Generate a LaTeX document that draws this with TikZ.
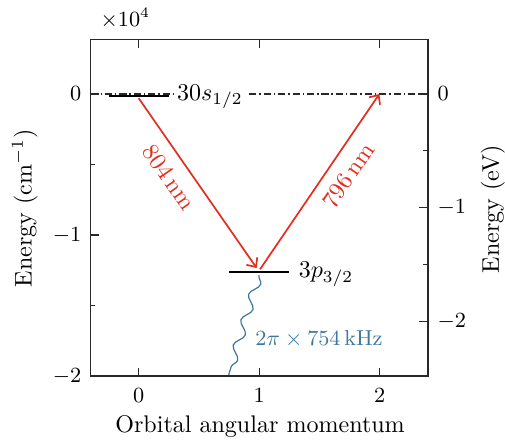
\documentclass[tikz,border=0pt]{standalone}
\usetikzlibrary{arrows.meta,decorations.pathmorphing}
\definecolor{arrred}{RGB}{226,45,30}
\definecolor{wavblue}{RGB}{60,120,160}
\definecolor{framegray}{RGB}{40,40,40}
\begin{document}
\begin{tikzpicture}[x=50.10pt, y=58.63pt,
  ticklab/.style={inner sep=0pt, font=\fontsize{9}{11}\selectfont},
  axlab/.style={inner sep=0pt, font=\fontsize{10}{12}\selectfont},
  levlab/.style={inner sep=0pt, anchor=base west, font=\fontsize{10}{12}\selectfont},
  levelline/.style={line width=0.9pt, black},
  trans/.style={arrred, line width=0.7pt, -{Straight Barb[length=3pt,width=5.5pt]}},
  tick/.style={framegray, line width=0.5pt},
  ]
\useasboundingbox (-1.151,-2.461) rectangle (3.040,0.6667);
% ionization limit
\draw[framegray, line width=0.5pt, dash pattern=on 3pt off 1.2pt on 0.6pt off 1.2pt] (-0.4,0) -- (2.4,0);
% levels
\draw[levelline] (-0.25,-0.0134) -- (0.25,-0.0134);
\draw[levelline] (0.75,-1.264) -- (1.25,-1.264);
% coordinates of transitions
\coordinate (s0) at (0,-0.03);
\coordinate (p0) at (0.979,-1.234);
\coordinate (p1) at (1.007,-1.243);
\coordinate (r0) at (1.997,0.0);
\coordinate (w0) at (0.998,-1.284);
\coordinate (w1) at (0.744,-2);
% transitions
\draw[trans] (s0) -- node[sloped, below, pos=0.4, inner sep=4.5pt, text=arrred, font=\fontsize{10}{12}\selectfont] (l804) {804\,nm} (p0);
\draw[trans] (p1) -- node[sloped, below, pos=0.6, inner sep=4.5pt, text=arrred, font=\fontsize{10}{12}\selectfont] (l796) {796\,nm} (r0);
\draw[wavblue, line width=0.5pt, decorate, decoration={snake, segment length=11pt, amplitude=1.8pt}] (w0) -- (w1);
% level labels
\node[levlab, fill=white, inner sep=1.5pt] (s30) at (0.285,-0.0426) {$30s_{1/2}$};
\node[levlab] (p3) at (1.325,-1.303) {$3p_{3/2}$};
\node[levlab, text=wavblue, font=\fontsize{9.5}{11}\selectfont] (freq) at (0.965,-1.78) {$2\pi\times754\,\mathrm{kHz}$};
% frame
\draw[framegray, line width=0.6pt] (-0.4,-2) rectangle (2.4,0.3865);
% x ticks
\foreach \x in {0,1,2} {
  \draw[tick] (\x,-2) -- ++(0,3.5pt);
  \draw[tick] (\x,0.3865) -- ++(0,-3.5pt);
  \node[ticklab, anchor=north] (xt\x) at ([yshift=-5pt]\x,-2) {$\x$};
}
% left ticks
\foreach \y/\t in {0/0,-1/-1,-2/-2} {
  \draw[tick] (-0.4,\y) -- ++(3.5pt,0);
  \node[ticklab, anchor=east] (lt\t) at ([xshift=-3.6pt]-0.4,\y) {$\t$};
}
\foreach \y in {-0.5,-1.5} \draw[tick] (-0.4,\y) -- ++(2pt,0);
% right ticks (eV)
\foreach \e in {0,-1,-2} {
  \draw[tick] (2.4,{\e*0.80655}) -- ++(-3.5pt,0);
  \node[ticklab, anchor=west] (rt\e) at ([xshift=3.8pt]2.4,{\e*0.80655}) {$\e$};
}
\foreach \e in {-0.5,-1.5} \draw[tick] (2.4,{\e*0.80655}) -- ++(-2pt,0);
% multiplier
\node[ticklab, anchor=base west] (mult) at (-0.32,0.477) {$\times10^{4}$};
% axis labels
\node[axlab] (xlab) at (1.007,-2.36) {Orbital angular momentum};
\node[axlab, rotate=90] (ylab) at (-0.944,-0.809) {Energy (cm$^{-1}$)};
\node[axlab, rotate=90] (y2lab) at (2.94,-0.816) {Energy (eV)};
\end{tikzpicture}
\end{document}
